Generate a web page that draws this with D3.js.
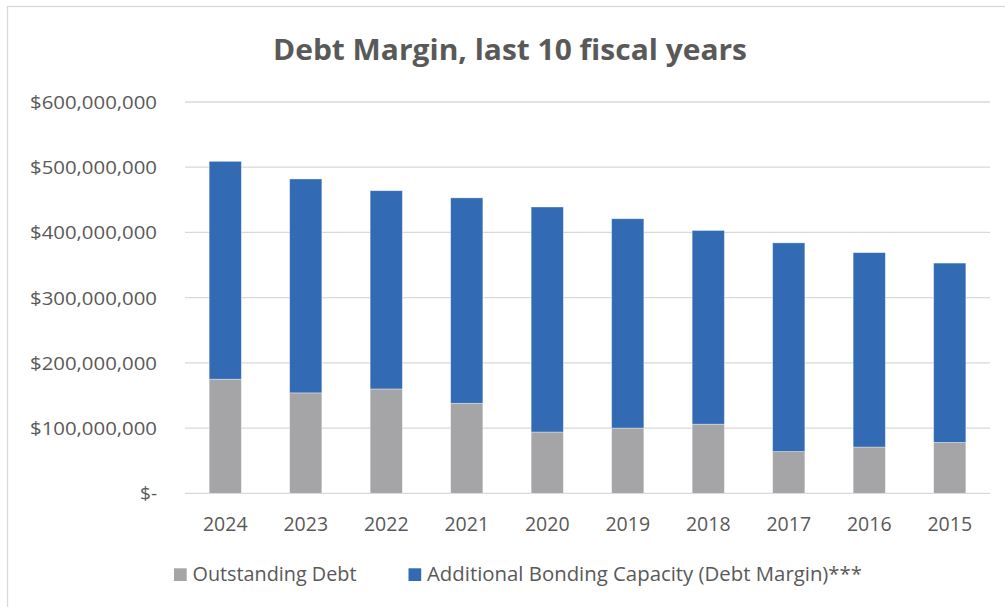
<!DOCTYPE html>
<html>
<head>
<meta charset="utf-8">
<script src="https://cdn.jsdelivr.net/npm/d3@7"></script>
<style>
  html, body { margin: 0; padding: 0; background: #ffffff; }
  svg { display: block; }
  text { font-family: "Open Sans", "Noto Sans", sans-serif; fill: #595959; }
</style>
</head>
<body>
<svg id="chart" width="1005" height="607"></svg>
<script>
// Fiscal years, newest first
const years = ["2024", "2023", "2022", "2021", "2020", "2019", "2018", "2017", "2016", "2015"];
// Outstanding debt (USD)
const outstandingDebt = [175e6, 154e6, 160e6, 138e6, 94e6, 100e6, 106e6, 64e6, 71e6, 78e6];
// Additional bonding capacity / debt margin (USD)
const debtMargin = [334e6, 328e6, 304e6, 315e6, 345e6, 321e6, 297e6, 320e6, 298e6, 275e6];
// Value axis ticks and their labels
const yTicks = [0, 100e6, 200e6, 300e6, 400e6, 500e6, 600e6];
const yTickLabels = ["$-", "$100,000,000", "$200,000,000", "$300,000,000", "$400,000,000", "$500,000,000", "$600,000,000"];
const seriesNames = ["Outstanding Debt", "Additional Bonding Capacity (Debt Margin)***"];
const seriesColors = ["#a5a5a7", "#326ab4"];
const chartTitle = "Debt Margin, last 10 fiscal years";

const svg = d3.select("#chart");

// Outer chart frame
svg.append("rect")
  .attr("x", 7.5).attr("y", 6.5)
  .attr("width", 1010).attr("height", 610)
  .attr("fill", "#ffffff")
  .attr("stroke", "#d9d9d9").attr("stroke-width", 1.3);

const x = d3.scaleBand()
  .domain(years)
  .range([185, 990])
  .paddingInner(0.6)
  .paddingOuter(0.3);

const y = d3.scaleLinear()
  .domain([0, 600e6])
  .range([493.3, 102]);

// Horizontal gridlines
svg.append("g")
  .selectAll("line")
  .data(yTicks)
  .join("line")
  .attr("x1", 185).attr("x2", 990)
  .attr("y1", d => y(d)).attr("y2", d => y(d))
  .attr("stroke", "#d9d9d9").attr("stroke-width", 1.3);

// Y tick labels
svg.append("g")
  .selectAll("text")
  .data(yTicks)
  .join("text")
  .attr("x", 157)
  .attr("y", d => y(d) + 7)
  .attr("text-anchor", "end")
  .attr("font-size", 19)
  .each(function (d, i) {
    const t = d3.select(this).text(yTickLabels[i]);
    if (yTickLabels[i].length > 4) {
      t.attr("textLength", 127).attr("lengthAdjust", "spacingAndGlyphs");
    }
  });

// Stacked bars
const rows = years.map((yr, i) => ({ year: yr, debt: outstandingDebt[i], margin: debtMargin[i] }));
const stacked = d3.stack().keys(["debt", "margin"])(rows);

svg.append("g")
  .selectAll("g")
  .data(stacked)
  .join("g")
  .attr("fill", (d, i) => seriesColors[i])
  .selectAll("rect")
  .data(d => d)
  .join("rect")
  .attr("x", d => x(d.data.year))
  .attr("width", x.bandwidth())
  .attr("y", d => y(d[1]))
  .attr("height", d => y(d[0]) - y(d[1]))
  .attr("stroke", "rgba(255,255,255,0.45)")
  .attr("stroke-width", 0.8);

// X tick labels
svg.append("g")
  .selectAll("text")
  .data(years)
  .join("text")
  .attr("x", d => x(d) + x.bandwidth() / 2)
  .attr("y", 531)
  .attr("text-anchor", "middle")
  .attr("font-size", 19.5)
  .text(d => d);

// Title
svg.append("text")
  .attr("x", 510)
  .attr("y", 59.5)
  .attr("text-anchor", "middle")
  .attr("font-size", 29)
  .attr("font-weight", "bold")
  .attr("textLength", 474)
  .attr("lengthAdjust", "spacingAndGlyphs")
  .text(chartTitle);

// Legend
const legendX = [174, 408.5];
const legendTextLen = [164, 435];
const legend = svg.append("g")
  .selectAll("g")
  .data(seriesNames)
  .join("g")
  .attr("transform", (d, i) => `translate(${legendX[i]},568.3)`);

legend.append("rect")
  .attr("width", 12.7).attr("height", 12.7)
  .attr("fill", (d, i) => seriesColors[i]);

legend.append("text")
  .attr("x", 18.5)
  .attr("y", 12.8)
  .attr("font-size", 20)
  .attr("textLength", (d, i) => legendTextLen[i])
  .attr("lengthAdjust", "spacingAndGlyphs")
  .text(d => d);
</script>
</body>
</html>
